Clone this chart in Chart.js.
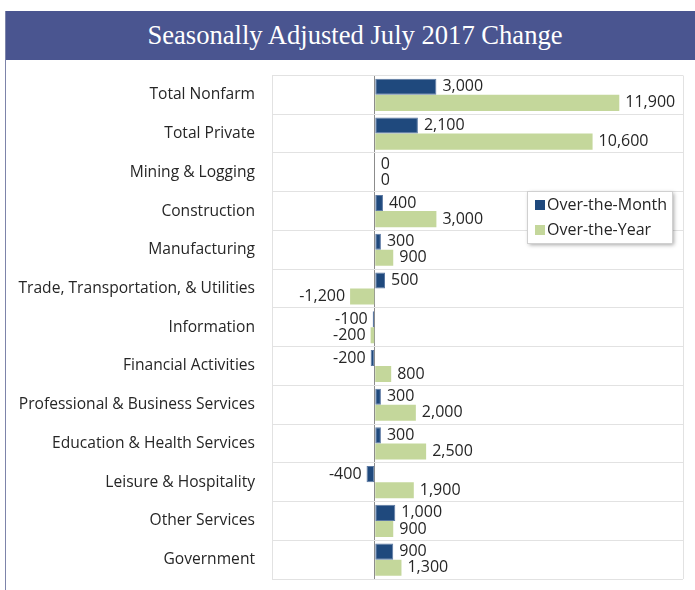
<!DOCTYPE html>
<html>
<head>
<meta charset="utf-8">
<script src="https://cdn.jsdelivr.net/npm/chart.js@4"></script>
<style>
  html, body { margin: 0; padding: 0; background: #fff; overflow: hidden; }
  #wrap { position: relative; width: 695px; height: 590px; overflow: hidden; }
  #banner {
    position: absolute; left: 5px; top: 11px; width: 700px; height: 49px;
    background: #4a5590; color: #fff;
    font-family: "Liberation Serif", serif; font-size: 26.6px;
    line-height: 49px; text-align: center;
  }
  #edge { position: absolute; left: 5px; top: 11px; width: 0; height: 579px; border-left: 1px solid #7d84aa; }
  #chart { position: absolute; left: 0; top: 59px; }
</style>
</head>
<body>
<div id="wrap">
  <div id="banner">Seasonally Adjusted July 2017 Change</div>
  <div id="edge"></div>
  <canvas id="chart" width="695" height="531"></canvas>
</div>
<script>
var categories = ['Total Nonfarm', 'Total Private', 'Mining & Logging', 'Construction',
  'Manufacturing', 'Trade, Transportation, & Utilities', 'Information',
  'Financial Activities', 'Professional & Business Services',
  'Education & Health Services', 'Leisure & Hospitality', 'Other Services', 'Government'];
var overMonth = [3000, 2100, 0, 400, 300, 500, -100, -200, 300, 300, -400, 1000, 900];
var overYear = [11900, 10600, 0, 3000, 900, -1200, -200, 800, 2000, 2500, 1900, 900, 1300];

var navy = '#1f497d';
var green = '#c4d79b';
var txtFont = '"Open Sans", sans-serif';

// value labels at the end of each bar
var barLabels = {
  id: 'barLabels',
  afterDatasetsDraw: function(chart) {
    var c = chart.ctx;
    c.save();
    c.font = '16px ' + txtFont;
    c.fillStyle = '#262626';
    c.textBaseline = 'middle';
    chart.data.datasets.forEach(function(ds, i) {
      chart.getDatasetMeta(i).data.forEach(function(el, j) {
        var v = ds.data[j];
        if (v < 0) { c.textAlign = 'right'; c.fillText(v.toLocaleString('en-US'), el.x - 5, el.y); }
        else { c.textAlign = 'left'; c.fillText(v.toLocaleString('en-US'), el.x + 6, el.y); }
      });
    });
    c.restore();
  }
};

// boxed legend inside the plot
var boxLegend = {
  id: 'boxLegend',
  afterDraw: function(chart) {
    var c = chart.ctx;
    var x = 527, y = 132, w = 145, h = 52;
    c.save();
    c.shadowColor = 'rgba(0,0,0,0.35)';
    c.shadowBlur = 4;
    c.shadowOffsetX = 2;
    c.shadowOffsetY = 2;
    c.fillStyle = '#fff';
    c.fillRect(x, y, w, h);
    c.shadowColor = 'transparent';
    c.strokeStyle = '#d0d0d0';
    c.strokeRect(x + 0.5, y + 0.5, w, h);
    c.font = '16px ' + txtFont;
    c.textBaseline = 'middle';
    c.textAlign = 'left';
    chart.data.datasets.forEach(function(ds, i) {
      var cy = y + 14 + i * 25;
      c.fillStyle = ds.backgroundColor;
      c.fillRect(x + 8, cy - 5, 10, 10);
      c.fillStyle = '#262626';
      c.fillText(ds.label, x + 20, cy);
    });
    c.restore();
  }
};

new Chart(document.getElementById('chart').getContext('2d'), {
  type: 'bar',
  data: {
    labels: categories,
    datasets: [
      { label: 'Over-the-Month', data: overMonth, backgroundColor: navy, borderColor: '#5d7aa3', borderWidth: 1, borderSkipped: false },
      { label: 'Over-the-Year', data: overYear, backgroundColor: green, borderColor: '#c4d79b', borderWidth: 0 }
    ]
  },
  options: {
    indexAxis: 'y',
    responsive: false,
    animation: false,
    devicePixelRatio: 1,
    categoryPercentage: 0.83,
    barPercentage: 1.0,
    layout: { padding: { top: 16.5, bottom: 11, right: 12, left: 0 } },
    plugins: { legend: { display: false }, tooltip: { enabled: false } },
    scales: {
      x: {
        min: -5000, max: 15000,
        ticks: { display: false, stepSize: 5000 },
        border: { display: false },
        grid: {
          drawTicks: false,
          color: function(ctx) {
            if (!ctx.tick) return 'transparent';
            if (ctx.tick.value === 0) return '#8c8c8c';
            if (ctx.tick.value === 15000) return '#e2e2e2';
            return 'transparent';
          }
        },
        afterFit: function(s) { s.height = 0; s.paddingLeft = 0; s.paddingRight = 0; s.paddingTop = 0; s.paddingBottom = 0; }
      },
      y: {
        grid: { color: '#e2e2e2', drawTicks: false },
        border: { color: '#e2e2e2' },
        ticks: { padding: 17, color: '#262626', font: { family: txtFont, size: 15.6 } },
        afterFit: function(s) { s.width = 272; s.paddingTop = 0; s.paddingBottom = 0; }
      }
    }
  },
  plugins: [barLabels, boxLegend]
});
</script>
</body>
</html>
